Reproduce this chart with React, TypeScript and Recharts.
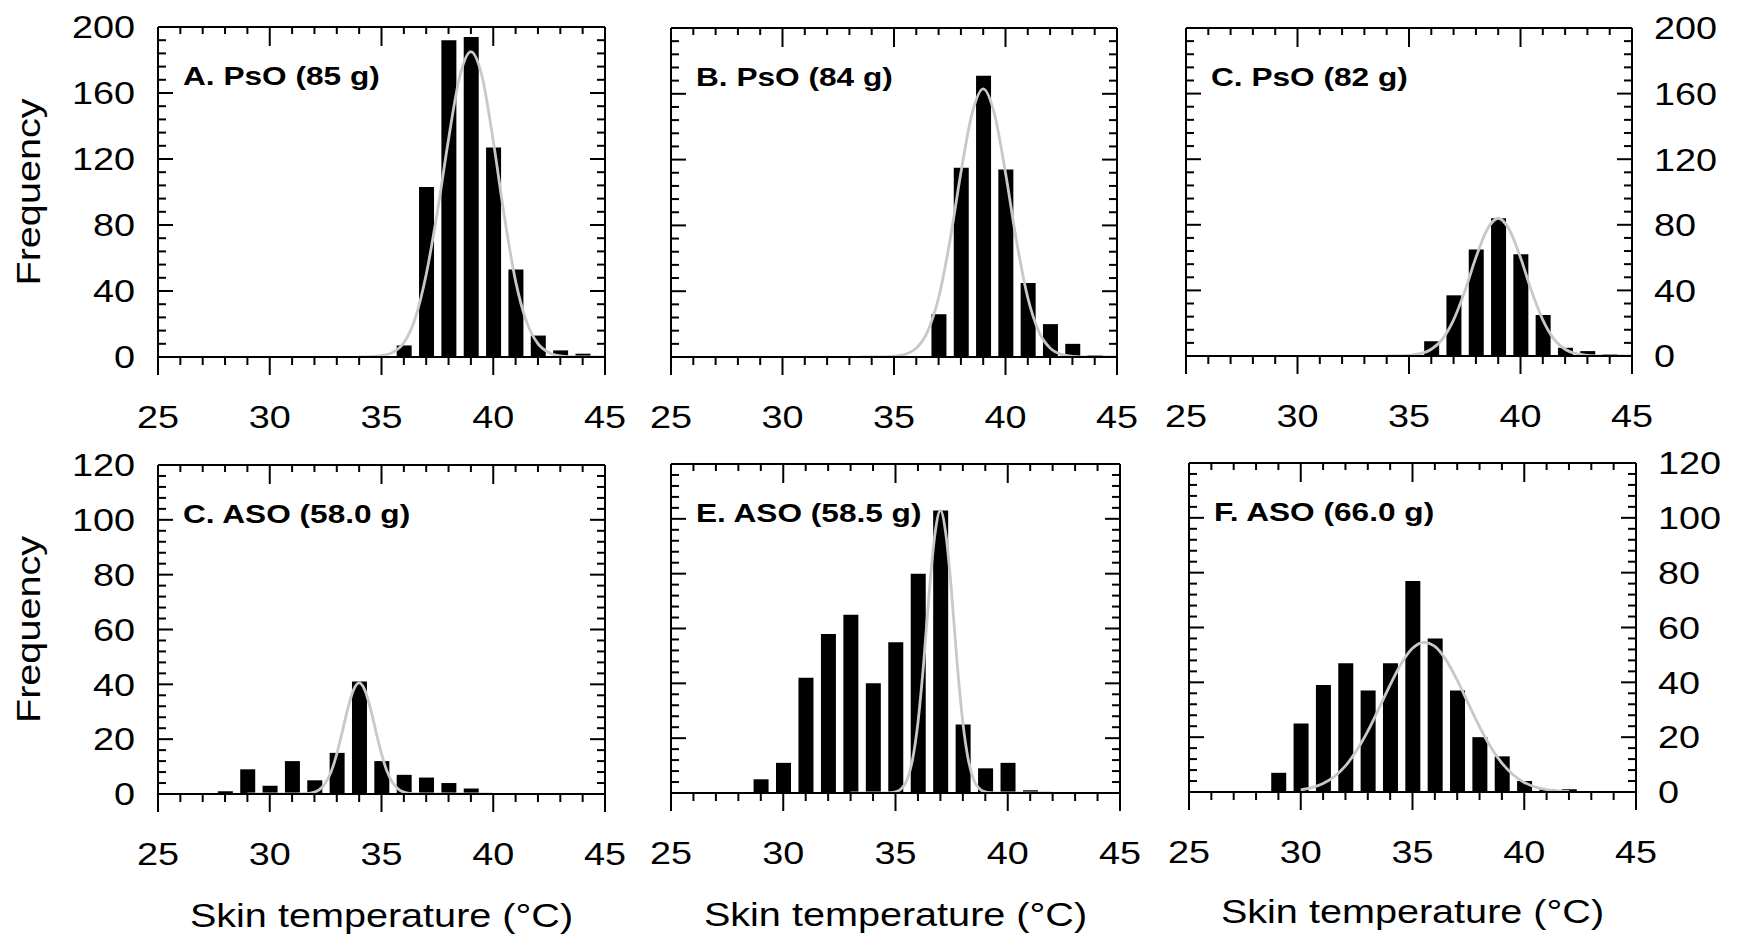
import React from 'react';
import { ComposedChart, Bar, Line, XAxis, YAxis } from 'recharts';

// ---------- shared tick values ----------
const xTicks = [25, 26, 27, 28, 29, 30, 31, 32, 33, 34, 35, 36, 37, 38, 39, 40, 41, 42, 43, 44, 45];
const yTicksTop = [0, 8, 16, 24, 32, 40, 48, 56, 64, 72, 80, 88, 96, 104, 112, 120, 128, 136, 144, 152, 160, 168, 176, 184, 192, 200];
const yTicksBottom = [0, 4, 8, 12, 16, 20, 24, 28, 32, 36, 40, 44, 48, 52, 56, 60, 64, 68, 72, 76, 80, 84, 88, 92, 96, 100, 104, 108, 112, 116, 120];

// ---------- panel labels ----------
const panelLabels = ['A. PsO (85 g)', 'B. PsO (84 g)', 'C. PsO (82 g)', 'C. ASO (58.0 g)', 'E. ASO (58.5 g)', 'F. ASO (66.0 g)'];
const yTitle = 'Frequency';
const xTitle = 'Skin temperature (°C)';

// ---------- Panel A ----------
const binsA = [36, 37, 38, 39, 40, 41, 42, 43, 44];
const countsA = [7, 103, 192, 194, 127, 53, 13, 4, 2];
const curveXA = [34, 34.5, 35, 35.5, 36, 36.5, 37, 37.5, 38, 38.5, 39, 39.5, 40, 40.5, 41, 41.5, 42, 42.5, 43, 43.5, 44, 44.5, 45];
const curveYA = [0, 0.2, 0.8, 2.8, 8.6, 23, 50, 88, 132, 170, 185, 170, 131, 85, 46, 21, 8.1, 2.6, 0.7, 0.2, 0, 0, 0];

// ---------- Panel B ----------
const binsB = [37, 38, 39, 40, 41, 42, 43, 44];
const countsB = [26, 115, 171, 114, 45, 20, 8, 1];
const curveXB = [33.5, 34, 34.5, 35, 35.5, 36, 36.5, 37, 37.5, 38, 38.5, 39, 39.5, 40, 40.5, 41, 41.5, 42, 42.5, 43, 43.5, 44, 44.5, 45];
const curveYB = [0, 0, 0.1, 0.4, 1.6, 5.4, 15.3, 36, 70, 112, 148, 163, 148, 112, 70, 36, 15.3, 5.4, 1.6, 0.4, 0.1, 0, 0, 0];

// ---------- Panel C ----------
const binsC = [36, 37, 38, 39, 40, 41, 42, 43, 44];
const countsC = [9, 37, 65, 84, 62, 25, 5, 3, 1];
const curveXC = [34, 34.5, 35, 35.5, 36, 36.5, 37, 37.5, 38, 38.5, 39, 39.5, 40, 40.5, 41, 41.5, 42, 42.5, 43, 43.5, 44, 44.5, 45];
const curveYC = [0, 0.1, 0.4, 1.4, 4.1, 10.3, 22, 39.4, 60, 77, 84, 77, 60, 39.4, 22, 10.3, 4.1, 1.4, 0.4, 0.1, 0, 0, 0];

// ---------- Panel D ----------
const binsD = [28, 29, 30, 31, 32, 33, 34, 35, 36, 37, 38, 39];
const countsD = [1, 9, 3, 12, 5, 15, 41, 12, 7, 6, 4, 2];
const curveXD = [29, 30, 31, 31.5, 31.75, 32, 32.25, 32.5, 32.75, 33, 33.25, 33.5, 33.75, 34, 34.25, 34.5, 34.75, 35, 35.25, 35.5, 35.75, 36, 36.25, 36.5, 37, 38, 39, 40];
const curveYD = [0, 0, 0, 0.1, 0.2, 0.7, 1.8, 4.1, 8.2, 14.6, 22.8, 31.4, 38, 40.5, 38, 31.4, 22.8, 14.6, 8.2, 4.1, 1.8, 0.7, 0.2, 0.1, 0, 0, 0, 0];

// ---------- Panel E ----------
const binsE = [29, 30, 31, 32, 33, 34, 35, 36, 37, 38, 39, 40, 41];
const countsE = [5, 11, 42, 58, 65, 40, 55, 80, 103, 25, 9, 11, 1];
const curveXE = [33, 34, 34.5, 34.75, 35, 35.25, 35.5, 35.75, 36, 36.25, 36.5, 36.75, 37, 37.25, 37.5, 37.75, 38, 38.25, 38.5, 38.75, 39, 39.25, 39.5, 40, 41, 42];
const curveYE = [0, 0, 0, 0.1, 0.4, 1.5, 4.5, 11.8, 25.7, 47, 73, 94, 103, 94, 73, 47, 25.7, 11.8, 4.5, 1.5, 0.4, 0.1, 0, 0, 0, 0];

// ---------- Panel F ----------
const binsF = [29, 30, 31, 32, 33, 34, 35, 36, 37, 38, 39, 40, 41, 42];
const countsF = [7, 25, 39, 47, 37, 47, 77, 56, 37, 20, 13, 4, 1, 1];
const curveXF = [30, 30.5, 31, 31.5, 32, 32.5, 33, 33.5, 34, 34.5, 35, 35.5, 36, 36.5, 37, 37.5, 38, 38.5, 39, 39.5, 40, 40.5, 41, 41.5, 42];
const curveYF = [0.8, 1.6, 3.1, 5.6, 9.5, 15.1, 22.2, 30.5, 39.1, 46.9, 52.4, 54.6, 53.1, 48.2, 40.8, 32.2, 23.8, 16.4, 10.5, 6.3, 3.5, 1.8, 0.9, 0.4, 0.2];

// ---------- styling ----------
const FONT = '"Liberation Sans", Arial, Helvetica, sans-serif';
const SX = 1.2; // horizontal stretch of the original figure's lettering
const TICK_FS = 31.5;
const TITLE_FS = 33;
const LABEL_FS = 25.5;
const CURVE = '#c8c8c8';

type Geo = { L: number; R: number; T: number; B: number };

const LM = 140;
const RM = 100;
const TM = 20;
const BM = 100;

function xBottomTick(props: any) {
  const { x, y, payload } = props;
  const v = payload.value;
  const major = v % 5 === 0;
  return (
    <g>
      <line x1={x} y1={y} x2={x} y2={y + (major ? 18 : 8)} stroke="#000" strokeWidth={2} />
      {major && (
        <text
          transform={`translate(${x},${y + 70.8}) scale(${SX},1)`}
          textAnchor="middle"
          fontSize={TICK_FS}
          fontFamily={FONT}
          fill="#000"
        >
          {v}
        </text>
      )}
    </g>
  );
}

function xTopTick(props: any) {
  const { x, y, payload } = props;
  const major = payload.value % 5 === 0;
  return <line x1={x} y1={y} x2={x} y2={y + (major ? 19 : 7)} stroke="#000" strokeWidth={2} />;
}

function makeYTick(side: 'left' | 'right', majorStep: number, showLabel: boolean) {
  return (props: any) => {
    const { x, y, payload } = props;
    const v = payload.value;
    const major = v % majorStep === 0;
    const len = major ? 15 : 8;
    const dir = side === 'left' ? 1 : -1;
    const lx = side === 'left' ? x - 23 : x + 22;
    return (
      <g>
        <line x1={x} y1={y} x2={x + dir * len} y2={y} stroke="#000" strokeWidth={2} />
        {major && showLabel && (
          <text
            transform={`translate(${lx},${y + 11.3}) scale(${SX},1)`}
            textAnchor={side === 'left' ? 'end' : 'start'}
            fontSize={TICK_FS}
            fontFamily={FONT}
            fill="#000"
          >
            {v}
          </text>
        )}
      </g>
    );
  };
}

type PanelProps = {
  geo: Geo;
  bins: number[];
  counts: number[];
  cx: number[];
  cy: number[];
  yMax: number;
  yTicks: number[];
  majorStep: number;
  labelSide: 'left' | 'right' | 'none';
};

function Panel({ geo, bins, counts, cx, cy, yMax, yTicks, majorStep, labelSide }: PanelProps) {
  const w = geo.R - geo.L;
  const h = geo.B - geo.T;
  const barData = bins.map((x, i) => ({ x, count: counts[i] }));
  const curveData = cx.map((x, i) => ({ x, fit: cy[i] }));
  const axisLine = { stroke: '#000', strokeWidth: 2 };
  return (
    <div style={{ position: 'absolute', left: geo.L - LM, top: geo.T - TM }}>
      <ComposedChart
        width={LM + w + RM}
        height={TM + h + BM}
        data={barData}
        margin={{ top: 0, right: 0, bottom: 0, left: 0 }}
      >
        <XAxis
          xAxisId="bottom"
          dataKey="x"
          type="number"
          domain={[25, 45]}
          ticks={xTicks}
          interval={0}
          allowDataOverflow
          height={BM}
          tickSize={0}
          tickMargin={0}
          tickLine={false}
          axisLine={axisLine}
          tick={xBottomTick}
        />
        <XAxis
          xAxisId="top"
          orientation="top"
          dataKey="x"
          type="number"
          domain={[25, 45]}
          ticks={xTicks}
          interval={0}
          allowDataOverflow
          height={TM}
          tickSize={0}
          tickMargin={0}
          tickLine={false}
          axisLine={axisLine}
          tick={xTopTick}
        />
        <YAxis
          yAxisId="left"
          type="number"
          domain={[0, yMax]}
          ticks={yTicks}
          interval={0}
          allowDataOverflow
          width={LM}
          tickSize={0}
          tickMargin={0}
          tickLine={false}
          axisLine={axisLine}
          tick={makeYTick('left', majorStep, labelSide === 'left')}
        />
        <YAxis
          yAxisId="right"
          orientation="right"
          type="number"
          domain={[0, yMax]}
          ticks={yTicks}
          interval={0}
          allowDataOverflow
          width={RM}
          tickSize={0}
          tickMargin={0}
          tickLine={false}
          axisLine={axisLine}
          tick={makeYTick('right', majorStep, labelSide === 'right')}
        />
        <Bar
          xAxisId="bottom"
          yAxisId="left"
          dataKey="count"
          fill="#000"
          barSize={15}
          isAnimationActive={false}
        />
        <Line
          xAxisId="top"
          yAxisId="right"
          data={curveData}
          dataKey="fit"
          type="monotone"
          stroke={CURVE}
          strokeWidth={2.8}
          dot={false}
          activeDot={false}
          isAnimationActive={false}
        />
      </ComposedChart>
    </div>
  );
}

const geoA: Geo = { L: 158, R: 605, T: 27, B: 357 };
const geoB: Geo = { L: 671, R: 1117, T: 28, B: 357 };
const geoC: Geo = { L: 1186, R: 1632, T: 28, B: 356 };
const geoD: Geo = { L: 158, R: 605, T: 465, B: 794 };
const geoE: Geo = { L: 671, R: 1120, T: 464, B: 793 };
const geoF: Geo = { L: 1189, R: 1636, T: 463, B: 792 };

export default function App() {
  const geos = [geoA, geoB, geoC, geoD, geoE, geoF];
  const titleCenters = [918, 917, 914];
  return (
    <div
      style={{
        position: 'absolute',
        left: 0,
        top: 0,
        width: 1737,
        height: 939,
        overflow: 'hidden',
        background: '#fff',
      }}
    >
      <Panel geo={geoA} bins={binsA} counts={countsA} cx={curveXA} cy={curveYA} yMax={200} yTicks={yTicksTop} majorStep={40} labelSide="left" />
      <Panel geo={geoB} bins={binsB} counts={countsB} cx={curveXB} cy={curveYB} yMax={200} yTicks={yTicksTop} majorStep={40} labelSide="none" />
      <Panel geo={geoC} bins={binsC} counts={countsC} cx={curveXC} cy={curveYC} yMax={200} yTicks={yTicksTop} majorStep={40} labelSide="right" />
      <Panel geo={geoD} bins={binsD} counts={countsD} cx={curveXD} cy={curveYD} yMax={120} yTicks={yTicksBottom} majorStep={20} labelSide="left" />
      <Panel geo={geoE} bins={binsE} counts={countsE} cx={curveXE} cy={curveYE} yMax={120} yTicks={yTicksBottom} majorStep={20} labelSide="none" />
      <Panel geo={geoF} bins={binsF} counts={countsF} cx={curveXF} cy={curveYF} yMax={120} yTicks={yTicksBottom} majorStep={20} labelSide="right" />
      <svg
        width={1737}
        height={939}
        style={{ position: 'absolute', left: 0, top: 0, pointerEvents: 'none' }}
      >
        {geos.map((g, i) => (
          <text
            key={'lab' + i}
            transform={`translate(${g.L + 25},${g.T + 58}) scale(1.24,1)`}
            fontSize={LABEL_FS}
            fontWeight="bold"
            fontFamily={FONT}
            fill="#000"
          >
            {panelLabels[i]}
          </text>
        ))}
        {[geoA, geoD].map((g, i) => (
          <text
            key={'yt' + i}
            transform={`translate(40,${(g.T + g.B) / 2}) rotate(-90) scale(1.2,1)`}
            textAnchor="middle"
            fontSize={TITLE_FS}
            fontFamily={FONT}
            fill="#000"
          >
            {yTitle}
          </text>
        ))}
        {[geoD, geoE, geoF].map((g, i) => (
          <text
            key={'xt' + i}
            transform={`translate(${(g.L + g.R) / 2},${titleCenters[i] + 9}) scale(1.2,1)`}
            textAnchor="middle"
            fontSize={TITLE_FS}
            fontFamily={FONT}
            fill="#000"
          >
            {xTitle}
          </text>
        ))}
      </svg>
    </div>
  );
}
